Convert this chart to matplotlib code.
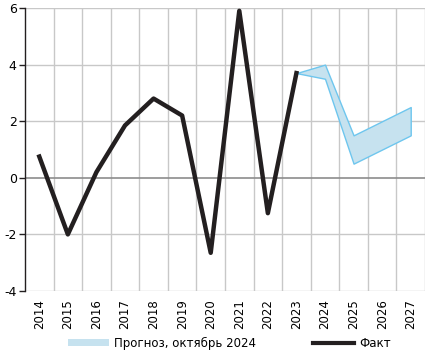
import matplotlib.pyplot as plt
from matplotlib.patches import Patch
from matplotlib.lines import Line2D

plt.rcParams['font.family'] = ['DejaVu Sans']
plt.rcParams['axes.unicode_minus'] = False

# данные
years = ['2014', '2015', '2016', '2017', '2018', '2019', '2020',
         '2021', '2022', '2023', '2024', '2025', '2026', '2027']
fact = [0.75, -2.0, 0.2, 1.85, 2.8, 2.2, -2.65, 5.9, -1.25, 3.7]
fc_years = ['2023', '2024', '2025', '2026', '2027']
fc_low = [3.7, 3.5, 0.5, 1.0, 1.5]
fc_high = [3.7, 4.0, 1.5, 2.0, 2.5]

fig = plt.figure(figsize=(4.28, 3.54), dpi=100)
ax = fig.add_axes([25 / 428, 1 - 291 / 354, 400 / 428, 283 / 354])

x_fact = [years.index(y) for y in years[:len(fact)]]
x_fc = [years.index(y) for y in fc_years]

ax.fill_between(x_fc, fc_low, fc_high, facecolor='#c6e2ef', edgecolor='#6ec6ee',
                linewidth=1, zorder=2)
ax.plot(x_fact, fact, color='#231f20', linewidth=3.2, zorder=3, clip_on=False)

ax.set_xlim(-0.5, len(years) - 0.5)
ax.set_ylim(-4, 6)
ax.set_yticks([-4, -2, 0, 2, 4, 6])
ax.set_xticks(range(len(years)))
ax.set_xticklabels(years, rotation=90, fontsize=8.5)
ax.tick_params(axis='y', labelsize=9, length=4, width=1, color='#231f20', pad=2)
ax.tick_params(axis='x', length=0, pad=6)

# сетка по границам категорий
for i in range(len(years)):
    ax.axvline(i + 0.5, color='#c8c8c8', linewidth=1, zorder=1)
for v in [-4, -2, 2, 4, 6]:
    ax.axhline(v, color='#c8c8c8', linewidth=1, zorder=1)
ax.axhline(0, color='#8c8c8c', linewidth=1.2, zorder=1)

for s in ['top', 'right', 'bottom']:
    ax.spines[s].set_visible(False)
ax.spines['left'].set_color('#231f20')
ax.spines['left'].set_linewidth(1)

handles = [Patch(facecolor='#c6e2ef', edgecolor='none', label='Прогноз, октябрь 2024'),
           Line2D([0], [0], color='#231f20', linewidth=3, label='Факт')]
fig.legend(handles=handles, loc='center left', bbox_to_anchor=(68 / 428, 11 / 354), ncol=2,
           frameon=False, fontsize=8.5, handlelength=3.5, handleheight=0.6,
           columnspacing=4.8, handletextpad=0.4, borderaxespad=0, borderpad=0)

fig.savefig('out.png', dpi=100)
